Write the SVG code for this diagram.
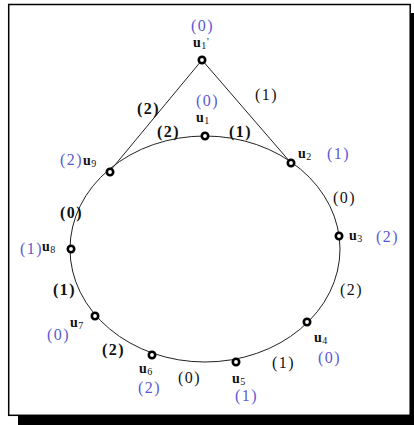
<svg xmlns="http://www.w3.org/2000/svg" width="414" height="425" viewBox="0 0 414 425">
<style>
text{font-family:"Liberation Serif","Times New Roman",serif;font-size:16px;letter-spacing:1.4px}
.b{fill:#5a5ad2}
.k{fill:#111}
.bd{font-weight:bold;fill:#111}
.u{fill:#111;font-size:14px;font-weight:bold;letter-spacing:0.5px}
.s{font-size:10px;font-weight:normal}
.node{fill:#fff;stroke:#000;stroke-width:2.6}
.edge{fill:none;stroke:#222;stroke-width:1}
</style>
<rect x="0" y="0" width="414" height="425" fill="#fff"/>
<rect x="410" y="13" width="4" height="412" fill="#000"/>
<rect x="18" y="416" width="396" height="9" fill="#000"/>
<rect x="8.7" y="4.5" width="401.5" height="410.8" fill="#fff" stroke="#000" stroke-width="1.5"/>
<g id="connectors">
<ellipse class="edge" cx="205" cy="249" rx="135" ry="113"/>
<line class="edge" x1="202" y1="60" x2="110" y2="171"/>
<line class="edge" x1="202" y1="60" x2="291" y2="163"/>
</g>
<g id="edge-labels">
<text class="bd" x="137" y="114">(2)</text>
<text class="k" x="255" y="100">(1)</text>
<text class="bd" x="157" y="137">(2)</text>
<text class="bd" x="229" y="137">(1)</text>
<text class="k" x="333" y="203">(0)</text>
<text class="k" x="340" y="295">(2)</text>
<text class="k" x="272" y="368">(1)</text>
<text class="k" x="178" y="383">(0)</text>
<text class="bd" x="102" y="355">(2)</text>
<text class="bd" x="53" y="295">(1)</text>
<text class="bd" x="60" y="218">(0)</text>
</g>
<g id="u1p"><circle class="node" cx="202" cy="60" r="3.2"/><text class="b" x="191" y="31">(0)</text><text class="u" x="193" y="47">u<tspan class="s" dy="1.5">1</tspan></text><text class="k" x="207" y="45" style="font-size:10px">'</text></g>
<g id="u1"><circle class="node" cx="205" cy="136" r="3.2"/><text class="b" x="196" y="106">(0)</text><text class="u" x="196" y="122">u<tspan class="s" dy="1.5">1</tspan></text></g>
<g id="u2"><circle class="node" cx="291" cy="163" r="3.2"/><text class="u" x="298" y="158">u<tspan class="s" dy="1.5">2</tspan></text><text class="b" x="327" y="159">(1)</text></g>
<g id="u3"><circle class="node" cx="339" cy="236" r="3.2"/><text class="u" x="349" y="240">u<tspan class="s" dy="1.5">3</tspan></text><text class="b" x="376" y="242">(2)</text></g>
<g id="u4"><circle class="node" cx="307" cy="322" r="3.2"/><text class="u" x="314" y="342">u<tspan class="s" dy="1.5">4</tspan></text><text class="b" x="318" y="363">(0)</text></g>
<g id="u5"><circle class="node" cx="236" cy="362" r="3.2"/><text class="u" x="232" y="383">u<tspan class="s" dy="1.5">5</tspan></text><text class="b" x="235" y="401">(1)</text></g>
<g id="u6"><circle class="node" cx="152" cy="355" r="3.2"/><text class="u" x="139" y="373">u<tspan class="s" dy="1.5">6</tspan></text><text class="b" x="138" y="393">(2)</text></g>
<g id="u7"><circle class="node" cx="95" cy="316" r="3.2"/><text class="u" x="70" y="327">u<tspan class="s" dy="1.5">7</tspan></text><text class="b" x="47" y="340">(0)</text></g>
<g id="u8"><circle class="node" cx="71" cy="249" r="3.2"/><text class="b" x="20" y="254">(1)</text><text class="u" x="42" y="251">u<tspan class="s" dy="1.5">8</tspan></text></g>
<g id="u9"><circle class="node" cx="110" cy="172" r="3.2"/><text class="b" x="60" y="165">(2)</text><text class="u" x="83" y="165">u<tspan class="s" dy="1.5">9</tspan></text></g>
</svg>
